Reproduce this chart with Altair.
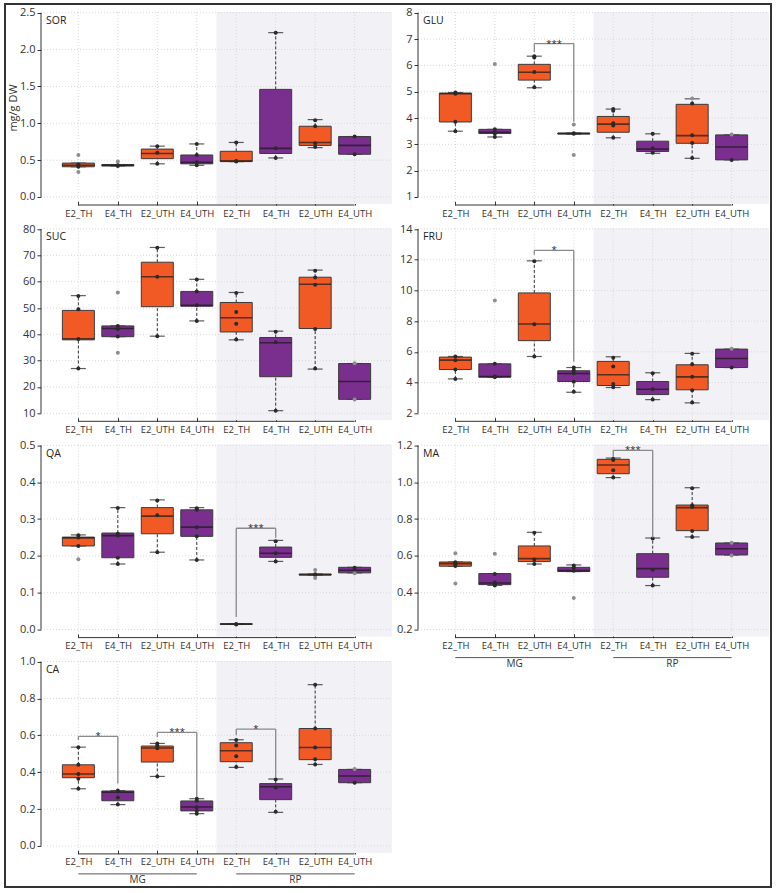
import altair as alt
import pandas as pd

GENOTYPE = ["E2_TH", "E4_TH", "E2_UTH", "E4_UTH", "E2_TH", "E4_TH", "E2_UTH", "E4_UTH"]
TISSUE = ["MG", "MG", "MG", "MG", "RP", "RP", "RP", "RP"]

# box stats per group: [lower whisker, Q1, median, Q3, upper whisker]
SOR_BOX = [[0.41, 0.41, 0.43, 0.46, 0.46], [0.42, 0.42, 0.43, 0.44, 0.44], [0.45, 0.52, 0.59, 0.65, 0.69],
           [0.43, 0.45, 0.47, 0.57, 0.72], [0.48, 0.48, 0.49, 0.62, 0.74], [0.53, 0.59, 0.66, 1.46, 2.23],
           [0.67, 0.70, 0.74, 0.96, 1.05], [0.58, 0.58, 0.70, 0.82, 0.82]]
SOR_PTS = [[0.57, 0.44, 0.43, 0.41, 0.34], [0.48, 0.43, 0.42], [0.69, 0.60, 0.45], [0.72, 0.57, 0.47, 0.43],
           [0.74, 0.49, 0.48], [2.23, 0.66, 0.53], [1.04, 0.96, 0.73, 0.68], [0.82, 0.58]]
SOR_TICKS = [0.0, 0.5, 1.0, 1.5, 2.0, 2.5]

GLU_BOX = [[3.50, 3.85, 4.92, 4.95, 4.97], [3.28, 3.41, 3.46, 3.57, 3.57], [5.15, 5.44, 5.74, 6.04, 6.35],
           [3.39, 3.39, 3.41, 3.43, 3.43], [3.25, 3.46, 3.77, 4.06, 4.34], [2.66, 2.73, 2.82, 3.12, 3.40],
           [2.47, 3.04, 3.33, 4.52, 4.73], [2.41, 2.41, 2.90, 3.36, 3.36]]
GLU_PTS = [[4.97, 4.92, 3.86, 3.50], [6.05, 3.57, 3.45, 3.40, 3.28], [6.35, 6.30, 5.75, 5.17], [3.75, 3.42, 3.40, 2.60],
           [4.34, 4.28, 3.80, 3.72, 3.25], [3.40, 2.85, 2.68], [4.74, 4.55, 3.35, 3.05, 2.48], [3.37, 2.41]]
GLU_TICKS = [1, 2, 3, 4, 5, 6, 7, 8]

SUC_BOX = [[27.0, 37.9, 38.3, 49.1, 54.7], [39.1, 39.1, 42.2, 43.2, 43.2], [39.3, 50.5, 61.9, 67.4, 73.0],
           [45.1, 50.7, 51.0, 56.3, 60.9], [37.9, 40.9, 46.3, 52.1, 55.9], [11.0, 23.9, 36.8, 38.8, 41.2],
           [26.8, 42.2, 59.0, 61.7, 64.4], [15.3, 15.3, 22.1, 28.9, 28.9]]
SUC_PTS = [[54.6, 49.5, 38.2, 27.0], [55.9, 43.2, 42.0, 39.2, 33.0], [72.9, 61.9, 39.3], [60.8, 56.3, 51.0, 45.1],
           [55.7, 48.5, 44.0, 38.0], [41.0, 37.0, 11.0], [64.2, 61.6, 58.8, 42.0, 27.0], [29.0, 15.2]]
SUC_TICKS = [10, 20, 30, 40, 50, 60, 70, 80]

FRU_BOX = [[4.24, 4.85, 5.46, 5.66, 5.70], [4.35, 4.35, 4.40, 5.22, 5.22], [5.70, 6.73, 7.82, 9.84, 11.93],
           [3.37, 4.07, 4.59, 4.77, 4.98], [3.68, 3.81, 4.51, 5.38, 5.68], [2.89, 3.22, 3.57, 4.07, 4.64],
           [2.68, 3.53, 4.37, 5.16, 5.90], [4.98, 4.98, 5.57, 6.18, 6.18]]
FRU_PTS = [[5.70, 5.45, 4.85, 4.24], [9.35, 5.22, 4.40, 4.35], [11.9, 7.8, 5.7], [4.98, 4.80, 4.60, 4.05, 3.40],
           [5.62, 5.05, 3.90, 3.70], [4.60, 3.57, 2.90], [5.88, 5.20, 4.38, 3.50, 2.70], [6.20, 4.98]]
FRU_TICKS = [2, 4, 6, 8, 10, 12, 14]

QA_BOX = [[0.227, 0.227, 0.249, 0.251, 0.257], [0.178, 0.195, 0.255, 0.262, 0.331], [0.210, 0.260, 0.308, 0.331, 0.352],
          [0.189, 0.253, 0.278, 0.325, 0.331], [0.014, 0.014, 0.015, 0.016, 0.016], [0.185, 0.196, 0.207, 0.224, 0.242],
          [0.148, 0.148, 0.149, 0.151, 0.151], [0.154, 0.154, 0.161, 0.169, 0.169]]
QA_PTS = [[0.256, 0.250, 0.227, 0.191], [0.330, 0.260, 0.255, 0.195, 0.178], [0.350, 0.310, 0.210],
          [0.329, 0.325, 0.278, 0.253, 0.189], [0.015, 0.014], [0.240, 0.207, 0.185], [0.162, 0.150, 0.148, 0.140],
          [0.168, 0.162, 0.153]]
QA_TICKS = [0.0, 0.1, 0.2, 0.3, 0.4, 0.5]

MA_BOX = [[0.544, 0.544, 0.558, 0.567, 0.567], [0.440, 0.444, 0.453, 0.504, 0.504], [0.556, 0.569, 0.585, 0.654, 0.728],
          [0.515, 0.515, 0.520, 0.538, 0.551], [1.025, 1.046, 1.093, 1.124, 1.131], [0.439, 0.484, 0.531, 0.612, 0.697],
          [0.703, 0.737, 0.862, 0.876, 0.970], [0.605, 0.605, 0.639, 0.670, 0.670]]
MA_PTS = [[0.615, 0.566, 0.555, 0.545, 0.450], [0.612, 0.502, 0.455, 0.445, 0.440], [0.725, 0.580, 0.556],
          [0.548, 0.535, 0.520, 0.372], [1.126, 1.120, 1.065, 1.025], [0.695, 0.525, 0.440],
          [0.967, 0.875, 0.865, 0.735, 0.703], [0.672, 0.602]]
MA_TICKS = [0.2, 0.4, 0.6, 0.8, 1.0, 1.2]

CA_BOX = [[0.310, 0.370, 0.390, 0.440, 0.536], [0.224, 0.245, 0.291, 0.298, 0.300], [0.377, 0.455, 0.531, 0.542, 0.556],
          [0.175, 0.190, 0.211, 0.244, 0.256], [0.426, 0.457, 0.516, 0.560, 0.576], [0.182, 0.251, 0.321, 0.338, 0.363],
          [0.442, 0.468, 0.534, 0.637, 0.875], [0.343, 0.343, 0.379, 0.415, 0.415]]
CA_PTS = [[0.535, 0.440, 0.390, 0.365, 0.310], [0.300, 0.295, 0.262, 0.224], [0.556, 0.545, 0.530, 0.377],
          [0.256, 0.245, 0.210, 0.190, 0.175], [0.575, 0.545, 0.487, 0.428], [0.360, 0.317, 0.185],
          [0.875, 0.637, 0.534, 0.470, 0.442], [0.418, 0.343]]
CA_TICKS = [0.0, 0.2, 0.4, 0.6, 0.8, 1.0]

# significance brackets: [group a, group b, bracket level, end of left leg, end of right leg, label]
GLU_SIG = [[2, 3, 6.83, 6.50, 3.86, "***"]]
FRU_SIG = [[2, 3, 12.61, 12.33, 5.35, "*"]]
QA_SIG = [[4, 5, 0.275, 0.034, 0.249, "***"]]
MA_SIG = [[4, 5, 1.173, 1.137, 0.699, "***"]]
CA_SIG = [[0, 1, 0.594, 0.575, 0.338, "*"], [2, 3, 0.616, 0.590, 0.265, "***"], [4, 5, 0.634, 0.600, 0.368, "*"]]

ORANGE = "#F15A24"
PURPLE = "#7A2E8E"
SHADE = "#F2F1F6"
INK = "#333333"
GRID = "#D9D9D9"
FONT = "Open Sans"

W, H = 351, 192
xs = alt.Scale(domain=[-0.82, 7.82], nice=False, zero=False)
label_expr = "[" + ",".join("'%s'" % g for g in GENOTYPE) + "][round(datum.value)]"
xaxis = alt.Axis(values=list(range(8)), labelExpr=label_expr, title=None, domain=False,
                 offset=-3, tickSize=4, tickColor=INK, labelFontSize=9.5, labelColor=INK,
                 labelPadding=3, grid=False, labelFont=FONT)


def panel(name, box, pts, ticks, fmt, sig=None, groups=False, first=False):
    span = ticks[-1] - ticks[0]
    ys = alt.Scale(domain=[ticks[0] - 0.038 * span, ticks[-1] + 0.004 * span], nice=False, zero=False)
    yaxis = alt.Axis(values=ticks, format=fmt, title=None, domain=False, tickSize=4, tickColor=INK,
                     labelFontSize=11, labelColor=INK, labelPadding=2, grid=False, labelFont=FONT)

    def X(f):
        return alt.X(f"{f}:Q", scale=xs, axis=xaxis)

    def Y(f):
        return alt.Y(f"{f}:Q", scale=ys, axis=yaxis)

    bdf = pd.DataFrame({
        "i": list(range(8)),
        "lo": [b[0] for b in box], "q1": [b[1] for b in box], "med": [b[2] for b in box],
        "q3": [b[3] for b in box], "hi": [b[4] for b in box],
        "fill": [ORANGE if g.startswith("E2") else PURPLE for g in GENOTYPE],
        "grp": [t + " " + g for t, g in zip(TISSUE, GENOTYPE)],
    })
    prow = []
    for i, (b, ps) in enumerate(zip(box, pts)):
        for v in ps:
            out = v < b[0] - 1e-9 or v > b[4] + 1e-9
            prow.append({"i": i, "v": v, "c": "#8E8E8E" if out else "#2A2A2A"})
    pdf = pd.DataFrame(prow)
    crow = []
    for i, b in enumerate(box):
        crow.append({"i": i, "v": b[0]})
        crow.append({"i": i, "v": b[4]})
    cdf = pd.DataFrame(crow)

    shade = alt.Chart(pd.DataFrame({"s": [3.5]})).mark_rect(color=SHADE).encode(
        x=X("s"), x2=alt.value(W), y=alt.value(0), y2=alt.value(H))
    gx = alt.Chart(pd.DataFrame({"i": list(range(8))})).mark_rule(
        color=GRID, strokeDash=[1, 2], strokeWidth=1).encode(x=X("i"), y=alt.value(0), y2=alt.value(H))
    gy = alt.Chart(pd.DataFrame({"v": ticks})).mark_rule(
        color=GRID, strokeDash=[1, 2], strokeWidth=1).encode(y=Y("v"), x=alt.value(0), x2=alt.value(W))
    wlo = alt.Chart(bdf).mark_rule(color=INK, strokeDash=[3, 2], strokeWidth=1).encode(
        x=X("i"), y=Y("lo"), y2="q1")
    whi = alt.Chart(bdf).mark_rule(color=INK, strokeDash=[3, 2], strokeWidth=1).encode(
        x=X("i"), y=Y("q3"), y2="hi")
    caps = alt.Chart(cdf).mark_tick(orient="horizontal", size=15, thickness=1.2, color="#1A1A1A").encode(
        x=X("i"), y=Y("v"))
    boxes = alt.Chart(bdf).mark_bar(size=32, stroke="#3A3A3A", strokeWidth=1).encode(
        x=X("i"), y=Y("q1"), y2="q3", color=alt.Color("fill:N", scale=None))
    med = alt.Chart(bdf).mark_tick(orient="horizontal", size=32, thickness=1.6, color="#1A1A1A").encode(
        x=X("i"), y=Y("med"))
    dots = alt.Chart(pdf).mark_circle(size=16, opacity=1).encode(
        x=X("i"), y=Y("v"), color=alt.Color("c:N", scale=None))
    tdf = pd.DataFrame({"lo": [ticks[0]], "hi": [ticks[-1]], "a": [0], "b": [7]})
    yline = alt.Chart(tdf).mark_rule(color=INK, strokeWidth=1).encode(
        x=alt.value(0), y=Y("lo"), y2="hi")
    xline = alt.Chart(tdf).mark_rule(color=INK, strokeWidth=1).encode(
        x=X("a"), x2="b", y=alt.value(H + 1))
    label = alt.Chart(pd.DataFrame({"t": [name]})).mark_text(
        align="left", baseline="middle", fontSize=10.5, font=FONT, color="#222222").encode(
        x=alt.value(5), y=alt.value(9), text="t:N")

    layers = [shade, gx, gy, wlo, whi, caps, boxes, med, dots, yline, xline, label]

    if sig:
        sdf = pd.DataFrame({
            "a": [s[0] for s in sig], "b": [s[1] for s in sig], "top": [s[2] for s in sig],
            "ya": [s[3] for s in sig], "yb": [s[4] for s in sig], "t": [s[5] for s in sig],
            "m": [(s[0] + s[1]) / 2 for s in sig]})
        bc = "#8A8A8A"
        layers += [
            alt.Chart(sdf).mark_rule(color=bc, strokeWidth=1.3).encode(x=X("a"), x2="b", y=Y("top")),
            alt.Chart(sdf).mark_rule(color=bc, strokeWidth=1.3).encode(x=X("a"), y=Y("top"), y2="ya"),
            alt.Chart(sdf).mark_rule(color=bc, strokeWidth=1.3).encode(x=X("b"), y=Y("top"), y2="yb"),
            alt.Chart(sdf).mark_text(baseline="alphabetic", dy=3, fontSize=9.5, font=FONT, color="#222222").encode(
                x=X("m"), y=Y("top"), text="t:N"),
        ]
    if groups:
        gdf = pd.DataFrame({"a": [0, 4], "b": [3, 7], "m": [1.5, 5.5], "t": ["MG", "RP"]})
        layers += [
            alt.Chart(gdf).mark_rule(color="#555555", strokeWidth=1).encode(
                x=X("a"), x2="b", y=alt.value(H + 21)),
            alt.Chart(gdf).mark_text(baseline="middle", fontSize=10, font=FONT, color=INK).encode(
                x=X("m"), y=alt.value(H + 27), text="t:N"),
        ]
    if first:
        layers += [
            alt.Chart(pd.DataFrame({"t": ["mg/g DW"]})).mark_text(
                angle=270, baseline="middle", align="center", fontSize=11, font=FONT, color=INK).encode(
                x=alt.value(-27), y=alt.value(H / 2), text="t:N"),
            alt.Chart(pd.DataFrame({"t": ["frame"]})).mark_rect(
                filled=False, color="#333333", strokeWidth=2).encode(
                x=alt.value(-36), x2=alt.value(730), y=alt.value(-8), y2=alt.value(875)),
        ]
    return alt.layer(*layers).properties(width=W, height=H)


charts = [
    panel("SOR", SOR_BOX, SOR_PTS, SOR_TICKS, ".1f", first=True),
    panel("GLU", GLU_BOX, GLU_PTS, GLU_TICKS, "d", sig=GLU_SIG),
    panel("SUC", SUC_BOX, SUC_PTS, SUC_TICKS, "d"),
    panel("FRU", FRU_BOX, FRU_PTS, FRU_TICKS, "d", sig=FRU_SIG),
    panel("QA", QA_BOX, QA_PTS, QA_TICKS, ".1f", sig=QA_SIG),
    panel("MA", MA_BOX, MA_PTS, MA_TICKS, ".1f", sig=MA_SIG, groups=True),
    panel("CA", CA_BOX, CA_PTS, CA_TICKS, ".1f", sig=CA_SIG, groups=True),
]

chart = alt.concat(*charts, columns=2, spacing=alt.RowColnumber(row=24.3, column=26)).properties(
    bounds="flush", padding={"left": 4, "top": 3, "right": 2, "bottom": 2}
).configure(font=FONT).configure_view(stroke=None)

chart.save("out.html", embed_options={"renderer": "svg", "actions": False})
